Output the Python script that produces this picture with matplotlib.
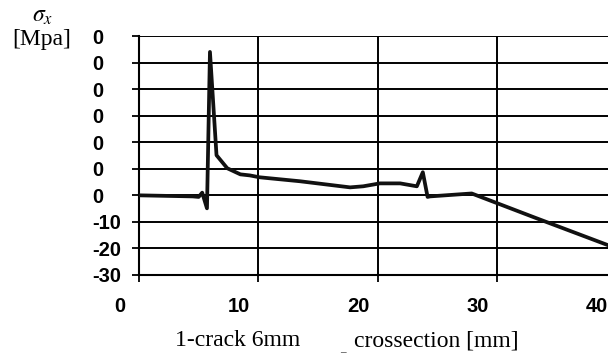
import matplotlib
matplotlib.use("Agg")
import matplotlib.pyplot as plt
import matplotlib.transforms as mtransforms

# stress profile along the crossection
x_mm = [0, 4.5, 5.0, 5.3, 5.7, 5.95, 6.5, 7.4, 8.5, 9.3, 10.1, 13.5, 17.7,
        18.8, 20.2, 21.9, 23.3, 23.8, 24.2, 24.4, 27.9, 33.2, 40.0]
sigma = [0, -0.4, -0.6, 1.0, -4.9, 54.0, 15.1, 10.2, 7.9, 7.5, 6.8, 5.3, 3.0,
         3.4, 4.5, 4.5, 3.4, 8.7, -0.6, -0.4, 0.7, -8.4, -19.9]

x_ticks = [0, 10, 20, 30, 40]
x_ticklabels = ['0', '10', '20', '30', '40']
y_ticks = [60, 50, 40, 30, 20, 10, 0, -10, -20, -30]
y_ticklabels = ['0', '0', '0', '0', '0', '0', '0', '-10', '-20', '-30']

plt.rcParams['mathtext.fontset'] = 'stix'

fig = plt.figure(figsize=(6.08, 3.54), dpi=100)
ax = fig.add_axes([139/608, 1 - 275/354, (616-139)/608, (275-36)/354])

ax.plot(x_mm, sigma, color='#111111', lw=2.7, solid_joinstyle='round', zorder=3)

ax.set_xlim(0, 40)
ax.set_ylim(-30, 60)
ax.set_xticks(x_ticks)
ax.set_xticklabels(x_ticklabels)
ax.set_yticks(y_ticks)
ax.set_yticklabels(y_ticklabels)
ax.grid(True, color='black', lw=1.4)
for s in ['top', 'right']:
    ax.spines[s].set_visible(False)
for s in ['left', 'bottom']:
    ax.spines[s].set_linewidth(1.5)

ax.tick_params(axis='both', direction='out', length=5, width=1.3, labelsize=14.5)
ax.tick_params(axis='x', pad=11)
ax.tick_params(axis='y', pad=29)
for lab in ax.get_yticklabels():
    lab.set_horizontalalignment('left')
for lab in ax.get_xticklabels() + ax.get_yticklabels():
    lab.set_fontfamily('Liberation Sans')
    lab.set_fontweight('bold')
shift = mtransforms.ScaledTranslation(-19/100, 0, fig.dpi_scale_trans)
for lab in ax.get_xticklabels():
    lab.set_transform(lab.get_transform() + shift)

fig.text(43/608, 1 - 15/354, r'$\sigma_x$', fontsize=17, ha='center', va='center')
fig.text(42/608, 1 - 40/354, '[Mpa]', family='Liberation Serif', fontsize=17,
         ha='center', va='center')
fig.text(175/608, 1 - 341/354, '1-crack 6mm', family='Liberation Serif', fontsize=17,
         ha='left', va='center')
fig.text(354/608, 1 - 341/354, 'crossection [mm]', family='Liberation Serif', fontsize=17,
         ha='left', va='center')
fig.text(343/608, 1 - 349/354, '_', family='Liberation Serif', fontsize=8,
         ha='center', va='center')

fig.savefig('out.png', dpi=100)
